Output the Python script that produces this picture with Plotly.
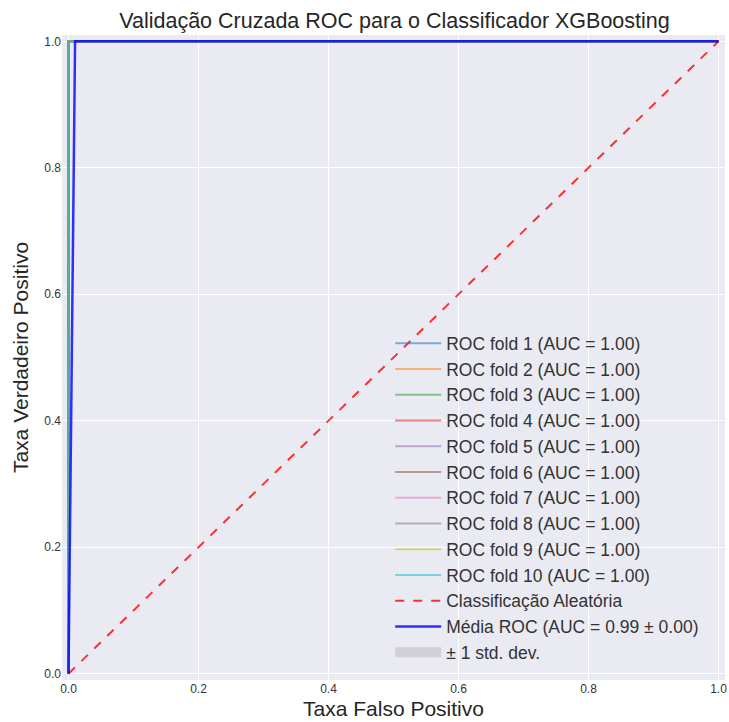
import plotly.graph_objects as go

# ---- data ----
fold_names = [f"ROC fold {i} (AUC = 1.00)" for i in range(1, 11)]
fold_fpr = [[0.0, 0.0, 1.0]] * 10
fold_tpr = [[0.0, 1.0, 1.0]] * 10
fold_colors = ["#1f77b4", "#ff7f0e", "#2ca02c", "#d62728", "#9467bd",
               "#8c564b", "#e377c2", "#7f7f7f", "#bcbd22", "#17becf"]
chance_x = [0.0, 1.0]
chance_y = [0.0, 1.0]
mean_fpr = [0.0, 0.0101, 1.0]
mean_tpr = [0.0, 1.0, 1.0]
std_upper = [0.0, 1.0, 1.0]
std_lower = [0.0, 1.0, 1.0]
x_ticks = [0.0, 0.2, 0.4, 0.6, 0.8, 1.0]
y_ticks = [0.0, 0.2, 0.4, 0.6, 0.8, 1.0]


def rgba(h, a):
    h = h.lstrip("#")
    return f"rgba({int(h[0:2],16)},{int(h[2:4],16)},{int(h[4:6],16)},{a})"


fig = go.Figure()
for name, fx, fy, c in zip(fold_names, fold_fpr, fold_tpr, fold_colors):
    fig.add_trace(go.Scatter(x=fx, y=fy, mode="lines", name=name,
                             line=dict(color=rgba(c, 0.55), width=2)))
fig.add_trace(go.Scatter(x=chance_x, y=chance_y, mode="lines",
                         name="Classificação Aleatória",
                         line=dict(color="rgba(255,0,0,0.8)", width=2, dash="dash")))
fig.add_trace(go.Scatter(x=mean_fpr, y=mean_tpr, mode="lines",
                         name="Média ROC (AUC = 0.99 ± 0.00)",
                         line=dict(color="rgba(0,0,255,0.8)", width=2.5)))
fig.add_trace(go.Scatter(x=mean_fpr, y=std_lower, mode="lines",
                         line=dict(width=0, color="rgba(128,128,128,0.2)"),
                         showlegend=False, hoverinfo="skip"))
fig.add_trace(go.Scatter(x=mean_fpr, y=std_upper, mode="lines", fill="tonexty",
                         fillcolor="rgba(150,150,150,0.25)",
                         line=dict(width=0, color="rgba(128,128,128,0.2)"),
                         showlegend=False, hoverinfo="skip"))
# legend entry for the std band (grey patch)
fig.add_trace(go.Scatter(x=[None], y=[None], mode="lines", name="± 1 std. dev.",
                         line=dict(width=14, color="rgba(190,190,195,0.6)")))

axis_common = dict(showgrid=True, gridcolor="white", gridwidth=1,
                   zeroline=False, showline=False, ticks="",
                   tickfont=dict(family="Liberation Sans Narrow, Liberation Sans, Arial", size=12, color="#333333"),
                   range=[-0.01, 1.01], ticklabeloverflow="allow")

fig.update_layout(
    width=729, height=722,
    margin=dict(l=62, r=2, t=35, b=42),
    paper_bgcolor="white", plot_bgcolor="#EAEAF2",
    font=dict(family="Liberation Sans, Arial", color="#262626"),
    title=dict(text="Validação Cruzada ROC para o Classificador XGBoosting",
               x=394.5 / 729, xanchor="center", y=0.972, yanchor="middle",
               font=dict(size=21.5, color="#262626")),
    xaxis=dict(axis_common, tickvals=x_ticks, tickformat=".1f",
               title=dict(text="Taxa Falso Positivo", font=dict(size=21), standoff=6)),
    yaxis=dict(axis_common, tickvals=y_ticks, tickformat=".1f",
               title=dict(text="Taxa Verdadeiro Positivo", font=dict(size=21), standoff=9)),
    legend=dict(x=0.495, y=0.55, xanchor="left", yanchor="top", traceorder="normal",
                bgcolor="rgba(0,0,0,0)", font=dict(size=17.5, color="#333333"),
                tracegroupgap=0, itemwidth=46),
    showlegend=True,
)

fig.write_html("out.html")
